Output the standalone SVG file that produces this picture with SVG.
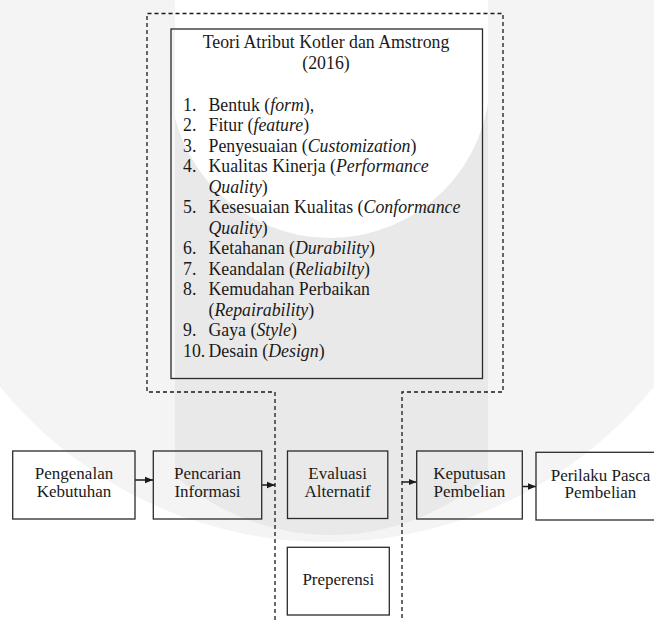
<svg xmlns="http://www.w3.org/2000/svg" width="654" height="620" viewBox="0 0 654 620" font-family="Liberation Serif, Times New Roman, serif">
<style>
text{font-size:17.8px;fill:#1a1a1a}
.s{font-size:17px}
.c{text-anchor:middle}
.i{font-style:italic}
.box{fill:none;stroke:#2a2a2a;stroke-width:1.3}
.dash{fill:none;stroke:#1a1a1a;stroke-width:1.3;stroke-dasharray:4 3}
.arr{stroke:#1a1a1a;stroke-width:1.5;fill:none;marker-end:url(#ah)}
</style>
<defs>
<marker id="ah" viewBox="0 0 8 8" refX="8" refY="4" markerWidth="8" markerHeight="8" markerUnits="userSpaceOnUse" orient="auto">
<path d="M0,0.8 L8,4 L0,7.2 Z" fill="#1a1a1a"/>
</marker>
<clipPath id="band"><rect x="175" y="0" width="313" height="620"/></clipPath>
</defs>
<rect width="654" height="620" fill="#ffffff"/>
<g id="watermark">
<circle cx="327" cy="120" r="422" fill="#f4f4f4"/>
<path d="M175 0 H488 V474.9 A235 235 0 0 1 175 475.8 Z" fill="#e9e9e9"/>
<g clip-path="url(#band)" fill="#ffffff">
<circle cx="330" cy="78" r="160"/>
<rect x="175" y="0" width="313" height="78"/>
</g>
</g>
<g id="connectors">
<path class="dash" d="M275,620 V392 H147 V13.5 H503 V392 H402 V620"/>
<line class="arr" x1="135" y1="480" x2="153" y2="480"/>
<line class="arr" x1="262" y1="485" x2="275" y2="485"/>
<line class="arr" x1="402" y1="482" x2="416.5" y2="482"/>
<line class="arr" x1="522.5" y1="486.5" x2="536" y2="486.5"/>
</g>
<g id="teori" font-family="Liberation Serif, serif">
<rect class="box" x="171" y="29" width="311.5" height="349.5"/>
<text class="c" x="326" y="48.3">Teori Atribut Kotler dan Amstrong</text>
<text class="c" x="326" y="68.8">(2016)</text>
<text x="183" y="110.8">1.</text><text x="208.5" y="110.8">Bentuk (<tspan class="i">form</tspan>),</text>
<text x="183" y="131.3">2.</text><text x="208.5" y="131.3">Fitur (<tspan class="i">feature</tspan>)</text>
<text x="183" y="151.8">3.</text><text x="208.5" y="151.8">Penyesuaian (<tspan class="i">Customization</tspan>)</text>
<text x="183" y="172.3">4.</text><text x="208.5" y="172.3">Kualitas Kinerja (<tspan class="i">Performance</tspan></text>
<text x="208.5" y="192.8"><tspan class="i">Quality</tspan>)</text>
<text x="183" y="213.3">5.</text><text x="208.5" y="213.3">Kesesuaian Kualitas (<tspan class="i">Conformance</tspan></text>
<text x="208.5" y="233.8"><tspan class="i">Quality</tspan>)</text>
<text x="183" y="254.3">6.</text><text x="208.5" y="254.3">Ketahanan (<tspan class="i">Durability</tspan>)</text>
<text x="183" y="274.8">7.</text><text x="208.5" y="274.8">Keandalan (<tspan class="i">Reliabilty</tspan>)</text>
<text x="183" y="295.3">8.</text><text x="208.5" y="295.3">Kemudahan Perbaikan</text>
<text x="208.5" y="315.8">(<tspan class="i">Repairability</tspan>)</text>
<text x="183" y="336.3">9.</text><text x="208.5" y="336.3">Gaya (<tspan class="i">Style</tspan>)</text>
<text x="183" y="356.8">10.</text><text x="208.5" y="356.8">Desain (<tspan class="i">Design</tspan>)</text>
</g>
<g id="pengenalan">
<rect class="box" x="12.7" y="451" width="122.3" height="68"/>
<text class="c s" x="74" y="479">Pengenalan</text>
<text class="c s" x="74" y="496.5">Kebutuhan</text>
</g>
<g id="pencarian">
<rect class="box" x="153.3" y="451" width="108.4" height="68"/>
<text class="c s" x="207.5" y="479">Pencarian</text>
<text class="c s" x="207.5" y="496.5">Informasi</text>
</g>
<g id="evaluasi">
<rect class="box" x="287.5" y="451" width="100.3" height="67.5"/>
<text class="c s" x="337.6" y="479">Evaluasi</text>
<text class="c s" x="337.6" y="496.5">Alternatif</text>
</g>
<g id="keputusan">
<rect class="box" x="416.7" y="451" width="105.6" height="68"/>
<text class="c s" x="469.5" y="479">Keputusan</text>
<text class="c s" x="469.5" y="496.5">Pembelian</text>
</g>
<g id="perilaku">
<rect class="box" x="536" y="452.3" width="128" height="67.7"/>
<text class="c s" x="600.5" y="480.5">Perilaku Pasca</text>
<text class="c s" x="600.5" y="498">Pembelian</text>
</g>
<g id="preperensi">
<rect class="box" x="287.3" y="547.3" width="102" height="67.7"/>
<text class="c s" x="338.3" y="585">Preperensi</text>
</g>
</svg>
